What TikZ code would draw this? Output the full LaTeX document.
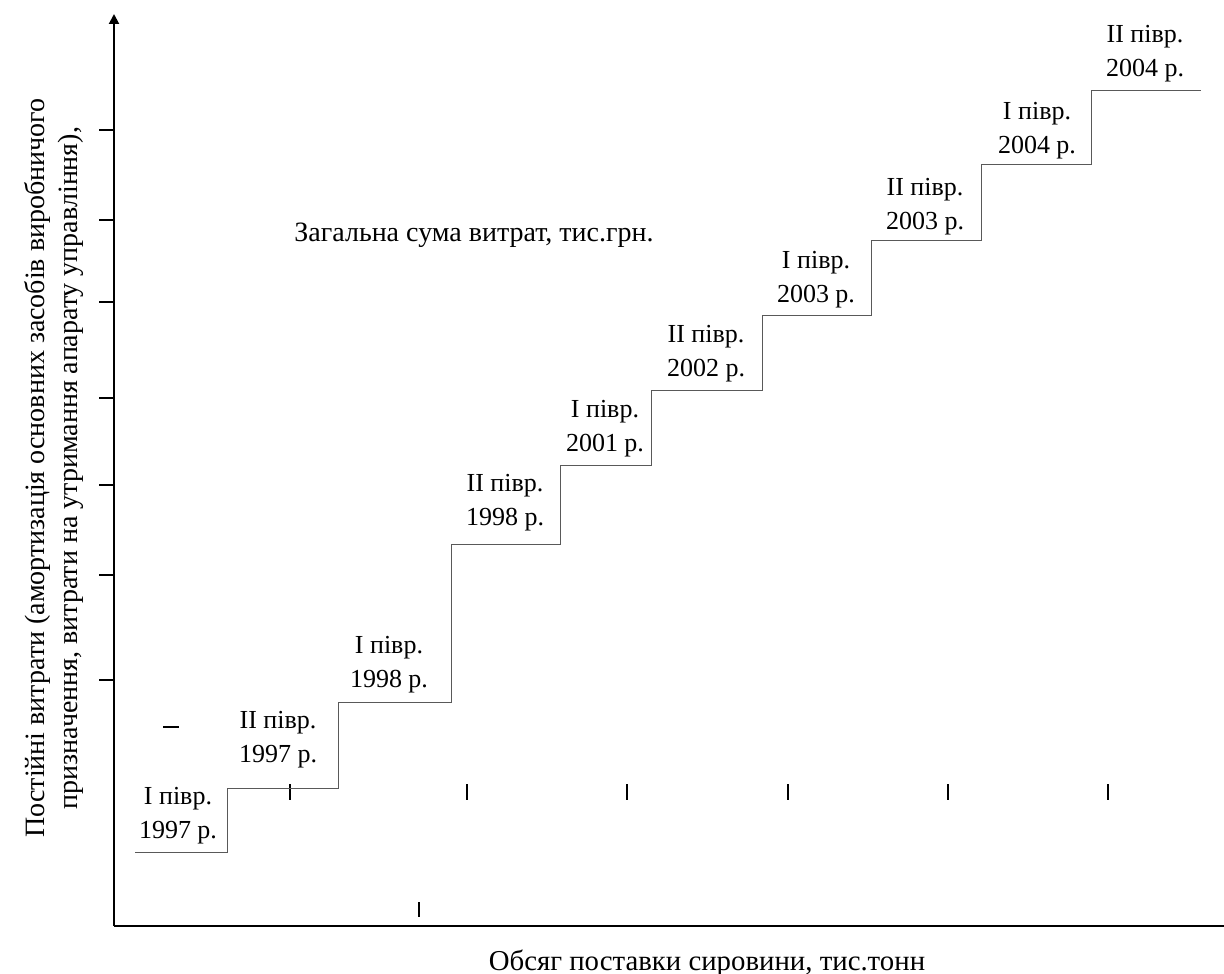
\documentclass[tikz,border=0pt]{standalone}
\usepackage{fontspec}
\setmainfont{Liberation Serif}
\usetikzlibrary{arrows.meta}
\begin{document}
\begin{tikzpicture}[x=0.5pt,y=-0.5pt,
  font=\fontsize{13}{16.75}\selectfont,
  axisline/.style={line width=1pt,draw=black},
  tickmark/.style={line width=1pt,draw=black},
  stairline/.style={line width=0.5pt,draw=black!65},
  period/.style={anchor=north,align=center,inner sep=0pt},
  caption/.style={anchor=base,inner sep=0pt,font=\fontsize{14}{16.5}\selectfont}]
\useasboundingbox (0,0) rectangle (1224,973);

% axes
\coordinate (O) at (114,926);
\coordinate (ytop) at (114,14);
\coordinate (xend) at (1224,926);
\draw[axisline,-{Triangle[length=5pt,width=5pt]}] (O) -- (ytop);
\draw[axisline,line width=1.3pt] (O) -- (xend);

% ticks on the vertical axis
\foreach \ty in {130,220,302,398,485,575,680}
  \draw[tickmark] (99,\ty) -- (114,\ty);

% short vertical marks
\foreach \tx in {290,467,627,788,948,1108}
  \draw[tickmark] (\tx,784) -- (\tx,800);
\draw[tickmark] (419,902) -- (419,917);
\draw[tickmark] (163,727) -- (179,727);

% stepped line of fixed costs
\coordinate (s0) at (135,852);
\coordinate (s1) at (227,852);
\coordinate (s2) at (227,788);
\coordinate (s3) at (338,788);
\coordinate (s4) at (338,702);
\coordinate (s5) at (451,702);
\coordinate (s6) at (451,544);
\coordinate (s7) at (560,544);
\coordinate (s8) at (560,465);
\coordinate (s9) at (651,465);
\coordinate (s10) at (651,390);
\coordinate (s11) at (762,390);
\coordinate (s12) at (762,315);
\coordinate (s13) at (871,315);
\coordinate (s14) at (871,240);
\coordinate (s15) at (981,240);
\coordinate (s16) at (981,165);
\coordinate (s17) at (1091,165);
\coordinate (s18) at (1091,91);
\coordinate (s19) at (1201,91);
\draw[stairline] (s0) -- (s1) -- (s2) -- (s3) -- (s4) -- (s5) -- (s6) -- (s7)
  -- (s8) -- (s9) -- (s10) -- (s11) -- (s12) -- (s13) -- (s14) -- (s15)
  -- (s16) -- (s17) -- (s18) -- (s19);

% period labels
\node[period] (p1)  at (178,787)  {I півр.\\1997 р.};
\node[period] (p2)  at (278,711)  {II півр.\\1997 р.};
\node[period] (p3)  at (389,636)  {I півр.\\1998 р.};
\node[period] (p4)  at (505,474)  {II півр.\\1998 р.};
\node[period] (p5)  at (605,400)  {I півр.\\2001 р.};
\node[period] (p6)  at (706,325)  {II півр.\\2002 р.};
\node[period] (p7)  at (816,251)  {I півр.\\2003 р.};
\node[period] (p8)  at (925,178)  {II півр.\\2003 р.};
\node[period] (p9)  at (1037,102) {I півр.\\2004 р.};
\node[period] (p10) at (1145,25)  {II півр.\\2004 р.};

% captions
\node[caption] (total) at (474,242) {Загальна сума витрат, тис.грн.};
\node[caption,font=\fontsize{14.4}{17}\selectfont] (xlabel) at (707,970) {Обсяг поставки сировини, тис.тонн};
\node[caption,anchor=center,rotate=90,align=center] (ylabel) at (54,468)
  {Постійні витрати (амортизація основних засобів виробничого\\
   призначення, витрати на утримання апарату управління),};
\end{tikzpicture}
\end{document}
